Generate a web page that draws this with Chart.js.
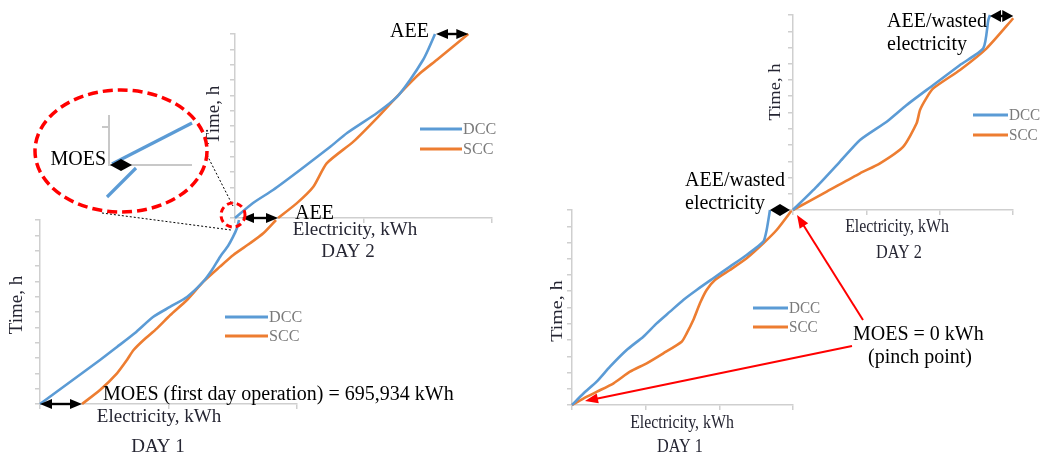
<!DOCTYPE html>
<html><head><meta charset="utf-8">
<script src="https://cdn.jsdelivr.net/npm/chart.js@4/dist/chart.umd.min.js"></script>
<style>
html,body{margin:0;padding:0;background:#fff;}
#wrap{position:relative;width:1044px;height:455px;overflow:hidden;background:#fff;}
#wrap canvas{position:absolute;}
</style></head><body><div id="wrap"></div>
<script>
// ---------------- DATA (Electricity in MWh, Time in h) ----------------
const seriesNames = ['DCC', 'SCC'];
const hourTickStep = 2;
const hourMax = 24;
const kwhTickStep = 1900;

// Left figure, DAY 1
const L1_dcc_e = [0, 498, 996, 1278, 1576, 1875, 2157, 2439, 2705, 2854, 2987, 3120, 3203, 3269, 3302];
const L1_dcc_t = [0, 2.87, 5.74, 7.44, 9.26, 11.35, 12.66, 13.96, 15.92, 17.48, 19.18, 20.61, 21.79, 22.96, 24];
const L1_scc_e = [697, 996, 1278, 1443, 1553, 1720, 1942, 2163, 2439, 2711, 2987, 3209, 3485, 3706, 3916];
const L1_scc_t = [0, 1.83, 4.00, 5.74, 7.04, 8.35, 9.87, 11.61, 13.57, 15.96, 17.92, 19.44, 20.96, 22.27, 24];
// Left figure, DAY 2
const L2_dcc_e = [0, 299, 631, 1079, 1576, 1859, 2356, 2688, 2904, 3120, 3203, 3319];
const L2_dcc_t = [0, 1.96, 3.65, 6.26, 9.26, 11.09, 13.70, 15.79, 18.0, 20.61, 21.92, 24];
const L2_scc_e = [714, 1023, 1300, 1521, 1964, 2351, 2738, 3070, 3347, 3872];
const L2_scc_t = [0, 1.91, 4.08, 7.13, 9.96, 13.00, 16.26, 18.87, 20.61, 24];
// Right figure, DAY 1
const R1_dcc_e = [0, 252, 532, 820, 1180, 1540, 1828, 2116, 2403, 2691, 3051, 3411, 3771, 4131, 4203, 4275];
const R1_dcc_t = [0, 1.44, 2.87, 4.72, 6.77, 8.41, 10.05, 11.49, 12.93, 14.16, 15.60, 17.03, 18.47, 20.10, 21.54, 24];
const R1_scc_e = [0, 252, 540, 898, 1252, 1612, 1972, 2368, 2476, 2619, 2763, 2907, 3087, 3411, 3771, 4131, 4419, 4750];
const R1_scc_t = [0, 0.82, 1.64, 2.67, 4.10, 5.13, 6.36, 7.79, 8.82, 10.46, 12.52, 14.16, 15.39, 16.62, 18.06, 19.90, 21.54, 24];
// Right figure, DAY 2
const R2_dcc_e = [0, 512, 1015, 1447, 2023, 2455, 3030, 3606, 4109, 4217, 4253];
const R2_dcc_t = [0, 2.87, 5.95, 8.62, 10.87, 12.93, 15.39, 17.85, 19.90, 23.39, 24];
const R2_scc_e = [0, 728, 1447, 1878, 2381, 2669, 2742, 2893, 3030, 3606, 4181, 4756];
const R2_scc_t = [0, 2.26, 4.52, 5.74, 7.80, 10.67, 12.31, 13.90, 14.98, 17.24, 19.90, 23.60];

// ---------------- STYLE / LAYOUT ----------------
const COLORS = ['#5b9bd5', '#ed7d31'];
const AXIS = '#cfcfcf';
const TITLE = '#262633';
const SERIF = '"Liberation Serif", "Times New Roman", serif';

const panels = [
  {id:'L1', ox:40,  oy:404, w:257, h:184, xMax:4265, series:[[L1_dcc_e,L1_dcc_t],[L1_scc_e,L1_scc_t]]},
  {id:'L2', ox:235, oy:218, w:257, h:184, xMax:4265, series:[[L2_dcc_e,L2_dcc_t],[L2_scc_e,L2_scc_t]]},
  {id:'R1', ox:572, oy:405, w:221, h:195, xMax:4772, series:[[R1_dcc_e,R1_dcc_t],[R1_scc_e,R1_scc_t]]},
  {id:'R2', ox:793, oy:210, w:220, h:195, xMax:4750, series:[[R2_dcc_e,R2_dcc_t],[R2_scc_e,R2_scc_t]]}
];

const wrap = document.getElementById('wrap');
const M = 14, TL = 5;
const charts = {};

panels.forEach(p => {
  const c = document.createElement('canvas');
  c.width = p.w + 2*M; c.height = p.h + 2*M;
  c.style.left = (p.ox - M) + 'px';
  c.style.top = (p.oy - p.h - M) + 'px';
  wrap.appendChild(c);
  const axisCommon = {
    type:'linear',
    grid:{drawOnChartArea:false, drawTicks:true, tickLength:TL, color:AXIS, lineWidth:1.5},
    border:{display:true, color:AXIS, width:1.5}
  };
  charts[p.id] = new Chart(c, {
    type:'line',
    data:{datasets: p.series.map((s,i) => ({
      label: seriesNames[i],
      data: s[0].map((v,k) => ({x:v, y:s[1][k]})),
      borderColor: COLORS[i], borderWidth: 2.6, pointRadius: 0,
      tension: 0.2, fill: false, clip: false
    }))},
    options:{
      responsive:false, animation:false, events:[],
      layout:{padding:{left:M-TL, right:M, top:M, bottom:M-TL}},
      plugins:{legend:{display:false}, tooltip:{enabled:false}},
      scales:{
        x:Object.assign({}, axisCommon, {min:0, max:p.xMax,
          ticks:{display:false, includeBounds:false, stepSize:kwhTickStep},
          afterFit(s){ s.height = TL; }}),
        y:Object.assign({}, axisCommon, {min:0, max:hourMax,
          ticks:{display:false, includeBounds:false, stepSize:hourTickStep},
          afterFit(s){ s.width = TL; }})
      }
    }
  });
});

// ---------------- OVERLAY (annotations) ----------------
const ov = document.createElement('canvas');
ov.width = 1044; ov.height = 455; ov.style.left = '0px'; ov.style.top = '0px';
wrap.appendChild(ov);
const ctx = ov.getContext('2d');

function P(id, x, y){
  const ch = charts[id];
  return [parseFloat(ch.canvas.style.left) + ch.scales.x.getPixelForValue(x),
          parseFloat(ch.canvas.style.top) + ch.scales.y.getPixelForValue(y)];
}
const last = a => a[a.length-1];

function head(x, y, ang, len, hw, color){
  ctx.save(); ctx.translate(x, y); ctx.rotate(ang);
  ctx.beginPath(); ctx.moveTo(0,0); ctx.lineTo(-len, -hw); ctx.lineTo(-len, hw); ctx.closePath();
  ctx.fillStyle = color; ctx.fill(); ctx.restore();
}
function arrow(x1,y1,x2,y2,opt){
  const o = Object.assign({color:'#000', lw:2.4, len:12, hw:5, both:true}, opt||{});
  const ang = Math.atan2(y2-y1, x2-x1);
  const d = Math.hypot(x2-x1, y2-y1);
  const len = o.both ? Math.min(o.len, d/2) : Math.min(o.len, d);
  ctx.strokeStyle = o.color; ctx.lineWidth = o.lw; ctx.setLineDash([]);
  ctx.beginPath();
  ctx.moveTo(x1 + (o.both ? Math.cos(ang)*len*0.8 : 0), y1 + (o.both ? Math.sin(ang)*len*0.8 : 0));
  ctx.lineTo(x2 - Math.cos(ang)*len*0.8, y2 - Math.sin(ang)*len*0.8);
  ctx.stroke();
  head(x2, y2, ang, len, o.hw, o.color);
  if (o.both) head(x1, y1, ang + Math.PI, len, o.hw, o.color);
}
function text(t, x, y, o){
  o = Object.assign({size:18, color:'#000', align:'left', base:'alphabetic', rot:false, sx:1}, o||{});
  ctx.save();
  ctx.font = o.size + 'px ' + SERIF;
  ctx.fillStyle = o.color; ctx.textAlign = o.align; ctx.textBaseline = o.base;
  ctx.translate(x, y);
  if (o.rot) { ctx.rotate(-Math.PI/2); ctx.scale(1, o.sx); }
  else ctx.scale(o.sx, 1);
  ctx.fillText(t, 0, 0);
  ctx.restore();
}

// Legends (drawn from dataset colours/labels)
const legends = [
  {id:'L1', x:225, y:317, len:43, gap:19, size:17},
  {id:'L2', x:420, y:129, len:42, gap:20, size:17},
  {id:'R1', x:753, y:308, len:35, gap:19, size:16},
  {id:'R2', x:973, y:115, len:35, gap:20, size:16}
];
legends.forEach(l => {
  charts[l.id].data.datasets.forEach((ds, i) => {
    const y = l.y + i*l.gap;
    ctx.strokeStyle = ds.borderColor; ctx.lineWidth = 3; ctx.setLineDash([]);
    ctx.beginPath(); ctx.moveTo(l.x, y); ctx.lineTo(l.x + l.len, y); ctx.stroke();
    text(ds.label, l.x + l.len + 1, y + 1, {size:l.size, color:'#7a7a7a', base:'middle', sx:0.95});
  });
});

// Axis titles and day labels
const axisTexts = [
  ['Time, h', 17, 305, {rot:true, base:'middle', align:'center', color:TITLE, size:19}],
  ['Electricity, kWh', 159, 422, {align:'center', color:TITLE, size:19}],
  ['DAY 1', 158, 452, {align:'center', color:TITLE, size:19}],
  ['Time, h', 214, 115, {rot:true, base:'middle', align:'center', color:TITLE, size:19}],
  ['Electricity, kWh', 355, 235, {align:'center', color:TITLE, size:19}],
  ['DAY 2', 348, 257, {align:'center', color:TITLE, size:19}],
  ['Time, h', 557, 311, {rot:true, base:'middle', align:'center', color:TITLE, size:20, sx:0.88}],
  ['Electricity, kWh', 682, 428, {align:'center', color:TITLE, size:18, sx:0.88}],
  ['DAY 1', 680, 452, {align:'center', color:TITLE, size:18, sx:0.9}],
  ['Time, h', 776, 92, {rot:true, base:'middle', align:'center', color:TITLE, size:18.5, sx:0.88}],
  ['Electricity, kWh', 897, 232, {align:'center', color:TITLE, size:18, sx:0.88}],
  ['DAY 2', 899, 258, {align:'center', color:TITLE, size:18, sx:0.9}]
];
axisTexts.forEach(a => text(a[0], a[1], a[2], a[3]));

// Annotation texts
const notes = [
  ['MOES (first day operation) = 695,934 kWh', 103, 400, {size:20}],
  ['AEE', 390, 37, {size:20}],
  ['AEE', 295, 219, {size:20}],
  ['MOES', 106, 165, {size:20, align:'right'}],
  ['AEE/wasted', 887, 27, {size:20}],
  ['electricity', 887, 50, {size:20}],
  ['AEE/wasted', 685, 186, {size:20}],
  ['electricity', 685, 209, {size:20}],
  ['MOES = 0 kWh', 853, 340, {size:20}],
  ['(pinch point)', 920, 363, {size:20, align:'center'}]
];
notes.forEach(a => text(a[0], a[1], a[2], a[3]));

// Black double arrows tied to the curves
{
  const a = P('L1', L1_dcc_e[0], L1_dcc_t[0]), b = P('L1', L1_scc_e[0], L1_scc_t[0]);
  arrow(a[0], a[1], b[0], b[1]);
  const c = P('L1', last(L1_dcc_e), last(L1_dcc_t)), d = P('L2', L2_scc_e[0], L2_scc_t[0]);
  arrow(c[0] + 3, d[1], d[0], d[1]);
  const e = P('L2', last(L2_dcc_e), last(L2_dcc_t)), f = P('L2', last(L2_scc_e), last(L2_scc_t));
  arrow(e[0] + 1, e[1], f[0], e[1]);
  const g = P('R1', last(R1_dcc_e), last(R1_dcc_t)), h = P('R1', last(R1_scc_e), last(R1_scc_t));
  arrow(g[0], g[1], h[0] - 2, g[1], {len:11, hw:6});
  const i = P('R2', last(R2_dcc_e), last(R2_dcc_t)), j = P('R2', last(R2_scc_e), last(R2_scc_t));
  arrow(i[0], i[1] + 1, j[0], i[1] + 1, {len:11, hw:6});
}

// Red arrows to the pinch point and to the start of day 1
{
  const o2 = P('R2', 0, 0), o1 = P('R1', 0, 0);
  arrow(863, 320, o2[0] + 4, o2[1] + 5, {color:'#ff0000', lw:2, len:13, hw:5, both:false});
  arrow(852, 346, o1[0] + 13, o1[1] - 4, {color:'#ff0000', lw:2, len:13, hw:5, both:false});
}

// Magnified inset (red dashed ellipse) and the small circle at DAY 2 origin
{
  const o = P('L2', 0, 0);
  ctx.strokeStyle = '#000'; ctx.lineWidth = 1; ctx.setLineDash([2,2]);
  ctx.beginPath(); ctx.moveTo(207, 155); ctx.lineTo(o[0] - 2, o[1] - 12); ctx.stroke();
  ctx.beginPath(); ctx.moveTo(102, 213); ctx.lineTo(o[0] - 4, o[1] + 12); ctx.stroke();
  ctx.setLineDash([]);
  ctx.strokeStyle = '#c8c8c8'; ctx.lineWidth = 2;
  ctx.beginPath(); ctx.moveTo(109, 115); ctx.lineTo(109, 165); ctx.lineTo(192, 165); ctx.stroke();
  ctx.beginPath(); ctx.moveTo(102, 127); ctx.lineTo(109, 127); ctx.stroke();
  ctx.strokeStyle = COLORS[0]; ctx.lineWidth = 3.2;
  ctx.beginPath(); ctx.moveTo(112, 164); ctx.lineTo(192, 123); ctx.stroke();
  ctx.beginPath(); ctx.moveTo(107, 197); ctx.lineTo(136, 168); ctx.stroke();
  arrow(110, 165, 132, 165, {len:11, hw:6});
  ctx.strokeStyle = '#ff0000'; ctx.lineWidth = 3.5; ctx.setLineDash([10,5]);
  ctx.beginPath(); ctx.ellipse(121, 151, 86, 61, 0, 0, Math.PI*2); ctx.stroke();
  ctx.lineWidth = 3; ctx.setLineDash([6,4]);
  ctx.beginPath(); ctx.arc(o[0] - 2, o[1] - 3, 12, 0, Math.PI*2); ctx.stroke();
  ctx.setLineDash([]);
}
</script></body></html>
